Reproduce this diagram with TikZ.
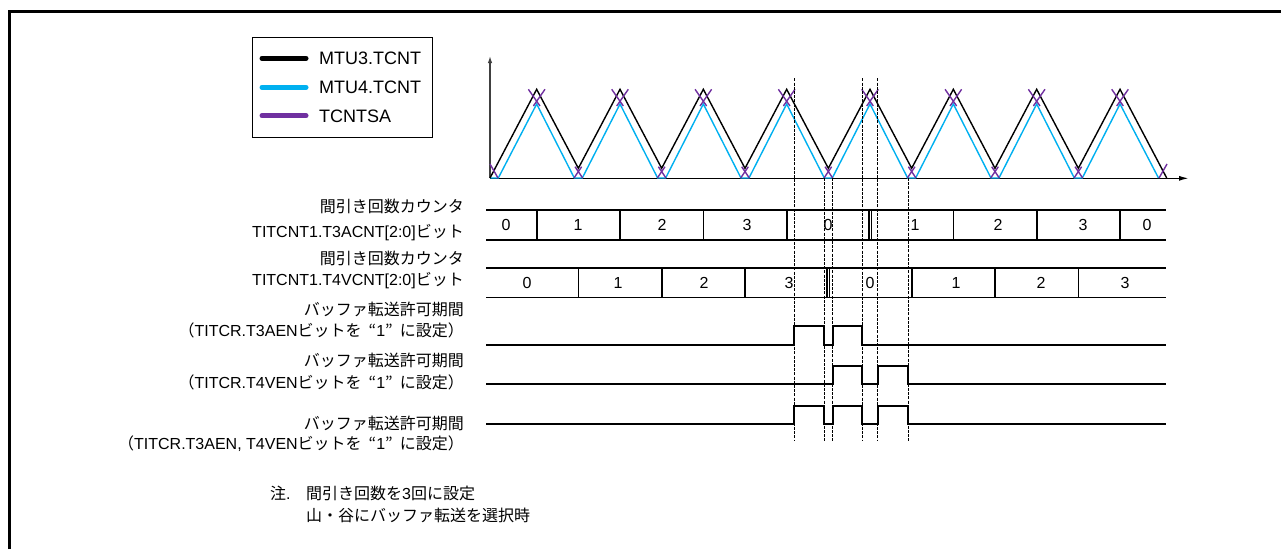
\documentclass[tikz,border=0pt]{standalone}
\usepackage{fontspec}
\setmainfont{Liberation Sans}
\newfontfamily\jp{Noto Sans CJK JP}
\usetikzlibrary{arrows.meta}
\definecolor{cy}{HTML}{00B0F0}
\definecolor{pu}{HTML}{7030A0}
\newcommand{\qone}{\hspace{7pt}{\jp “}1{\jp ”}\hspace{7pt}}
\begin{document}
\begin{tikzpicture}[x=1pt,y=-1pt,
  txt/.style={inner sep=0pt,font=\fontsize{16}{19}\selectfont},
  lbl/.style={txt,anchor=base east},
  val/.style={txt,anchor=base},
  lg/.style={inner sep=0pt,anchor=base west,font=\fontsize{18}{21}\selectfont},
  sig/.style={line width=1.8pt},
  divl/.style={line width=1.6pt},
  dsh/.style={line width=1pt,dash pattern=on 3pt off 1.2pt},
  blk/.style={line width=1.4pt,black},
  cyl/.style={line width=1.4pt,cy},
  pul/.style={line width=1.4pt,pu},
  legl/.style={line width=5pt,line cap=round}]
\useasboundingbox (0,0) rectangle (1281,549);
% frame
\draw[line width=3pt] (9,549) -- (9,11) -- (1281,11);
% legend
\node[draw,line width=1pt,minimum width=180pt,minimum height=100pt,anchor=north west,inner sep=0pt] (leg) at (252,37) {};
\draw[legl,black] (262,58.3) -- (306,58.3);
\draw[legl,cy] (262,87.3) -- (306,87.3);
\draw[legl,pu] (262,115.7) -- (306,115.7);
\node[lg] (lg1) at (319,64.7) {MTU3.TCNT};
\node[lg] (lg2) at (319,93.7) {MTU4.TCNT};
\node[lg] (lg3) at (319,122.1) {TCNTSA};
% axes
\coordinate (org) at (490,178.3);
\coordinate (ytip) at (490,56);
\coordinate (xtip) at (1189,178.3);
\draw[line width=1.3pt,black!75,-{Latex[length=7pt,width=4.5pt]}] (org) -- (ytip);
\draw[line width=1.5pt,-{Latex[length=10pt,width=5pt]}] (org) -- (xtip);
% MTU4 (cyan)
\draw[cyl,line join=miter] (490,178) -- (498.3,178) -- (536.67,104)
  foreach \k in {0,...,6} { -- ({574.3+83.333*\k},178) -- ({582.3+83.333*\k},178) -- ({620+83.333*\k},104) }
  -- (1158.5,178);
% MTU3 (black)
\draw[blk] (490,178) -- (536.67,89.3)
  foreach \k in {0,...,6} { -- ({578.33+83.333*\k},168.3) -- ({620+83.333*\k},89.3) }
  -- (1166.7,178);
% TCNTSA marks
\foreach \k in {0,...,7} {
  \draw[pul] ({536.67+83.333*\k-8.3},89.3) -- ({536.67+83.333*\k+3.3},106);
  \draw[pul] ({536.67+83.333*\k+8.3},89.3) -- ({536.67+83.333*\k-3.3},106);
}
\foreach \k in {0,...,6} {
  \draw[pul] ({578.33+83.333*\k-4.3},178) -- ({578.33+83.333*\k+3.3},166.7);
  \draw[pul] ({578.33+83.333*\k+4.3},178) -- ({578.33+83.333*\k-3.3},166.7);
}
\draw[pul] (490,164) -- (498,178);
\draw[pul] (1159,178) -- (1167,164);
% dashed guides
\foreach \x in {794.3,862,877.7} \draw[dsh] (\x,78.3) -- (\x,441);
\foreach \x in {824,832.7,908.3} \draw[dsh] (\x,178) -- (\x,441);
% counter bar 1 (T3ACNT)
\draw[sig] (486,210) -- (1166,210);
\draw[sig] (486,240) -- (1166,240);
\foreach \x in {536.7,620,703.3,786.7,869,871.6,953.3,1036.7,1120} \draw[divl] (\x,210) -- (\x,240);
\foreach \x/\v [count=\i] in {506/0,578/1,662/2,747/3,828/0,915/1,998/2,1083/3,1147/0}
  \node[val] (a\i) at (\x,230.7) {\v};
% counter bar 2 (T4VCNT)
\draw[sig] (486,268) -- (1166,268);
\draw[sig] (486,297.5) -- (1166,297.5);
\foreach \x in {578.3,661.7,745,827,829.6,911.7,995,1078.3} \draw[divl] (\x,268) -- (\x,297.5);
\foreach \x/\v [count=\i] in {527/0,618/1,704/2,789/3,870/0,956/1,1041/2,1125/3}
  \node[val] (b\i) at (\x,288.5) {\v};
% enable signals
\draw[sig] (486,345.3) -- (794.3,345.3) -- (794.3,326) -- (824,326) -- (824,345.3) -- (832.7,345.3) -- (832.7,326) -- (862,326) -- (862,345.3) -- (1166,345.3);
\draw[sig] (486,383.7) -- (832.7,383.7) -- (832.7,365.7) -- (862,365.7) -- (862,383.7) -- (877.7,383.7) -- (877.7,365.7) -- (908.3,365.7) -- (908.3,383.7) -- (1166,383.7);
\draw[sig] (486,423.7) -- (794.3,423.7) -- (794.3,405.7) -- (824,405.7) -- (824,423.7) -- (832.7,423.7) -- (832.7,405.7) -- (862,405.7) -- (862,423.7) -- (877.7,423.7) -- (877.7,405.7) -- (908.3,405.7) -- (908.3,423.7) -- (1166,423.7);
% labels
\node[lbl] (t1a) at (464,212.7) {\jp 間引き回数カウンタ};
\node[lbl] (t1b) at (464,237.7) {TITCNT1.T3ACNT[2:0]{\jp ビット}};
\node[lbl] (t2a) at (464,264.3) {\jp 間引き回数カウンタ};
\node[lbl] (t2b) at (464,285.3) {TITCNT1.T4VCNT[2:0]{\jp ビット}};
\node[lbl] (s1a) at (464,315.3) {\jp バッファ転送許可期間};
\node[lbl] (s1b) at (464,336) {{\jp （}TITCR.T3AEN{\jp ビットを}\qone{\jp に設定）}};
\node[lbl] (s2a) at (464,366) {\jp バッファ転送許可期間};
\node[lbl] (s2b) at (464,388.7) {{\jp （}TITCR.T4VEN{\jp ビットを}\qone{\jp に設定）}};
\node[lbl] (s3a) at (464,429.3) {\jp バッファ転送許可期間};
\node[lbl] (s3b) at (464,449.3) {{\jp （}TITCR.T3AEN, T4VEN{\jp ビットを}\qone{\jp に設定）}};
% note
\node[txt,anchor=base west] (n0) at (270,499.3) {{\jp 注}.};
\node[txt,anchor=base west] (n1) at (306,499.3) {{\jp 間引き回数を}3{\jp 回に設定}};
\node[txt,anchor=base west] (n2) at (306,521) {\jp 山・谷にバッファ転送を選択時};
\end{tikzpicture}
\end{document}
